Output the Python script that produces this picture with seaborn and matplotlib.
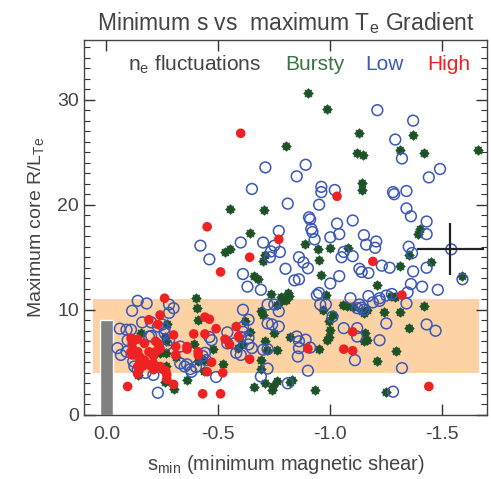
import numpy as np
import pandas as pd
import seaborn as sns
import matplotlib.pyplot as plt
from matplotlib.path import Path
from matplotlib.ticker import MultipleLocator

# Values: s_min (x) and maximum core R/L_Te (y)
bursty_smin = [-0.90, -0.985, -1.13, -1.37, -0.80, -1.12, -1.145, -1.31, -1.42, -1.66,
               -1.14, -1.14, -1.40, -1.39, -0.885, -0.945, -1.0, -1.08, -0.95, -1.31,
               -1.35, -1.45, -1.59, -0.96, -1.21, -0.81, -0.815, -0.98, -1.27, -1.29,
               -0.55, -0.705, -0.64, -0.53, -0.55, -0.71, -0.70, -0.66, -0.675, -0.735,
               -0.78, -0.40,
               -0.155, -0.26, -0.265, -0.24, -0.265, -0.31, -0.265, -0.14, -0.26, -0.30,
               -0.36, -0.405, -0.41, -0.27, -0.39, -0.475, -0.41, -0.435, -0.52, -0.435,
               -0.59, -0.605, -0.617, -0.643, -0.69, -0.69, -0.69, -0.70, -0.76, -0.78,
               -0.80, -0.75, -0.71, -0.717, -0.762, -0.82, -0.95, -0.993, -1.0, -0.993,
               -0.985, -1.01, -1.055, -1.075, -1.10, -1.14, -1.165, -1.15, -1.155, -1.165,
               -1.15, -1.24, -1.31, -1.42, -1.35, -1.21, -1.295, -1.25, -0.66, -0.71,
               -0.745, -0.74, -0.76, -0.82, -0.83, -0.93, -0.967]
bursty_rlt = [30.6, 29.1, 26.8, 26.6, 25.6, 24.9, 24.7, 25.2, 24.95, 25.2,
              22.1, 21.4, 17.7, 17.2, 16.3, 15.8, 15.9, 15.9, 14.7, 14.2,
              15.2, 14.5, 13.2, 13.3, 12.4, 11.6, 11.3, 11.4, 11.3, 11.2,
              19.6, 19.5, 17.3, 15.5, 15.8, 15.2, 14.6, 13.2, 12.9, 11.5,
              11.2, 11.1,
              7.8, 7.45, 7.0, 5.9, 5.9, 5.55, 4.65, 3.8, 3.1, 2.45,
              3.3, 10.2, 9.0, 8.6, 6.7, 6.3, 5.1, 5.2, 4.85, 4.2,
              6.35, 6.7, 8.9, 7.85, 5.2, 4.35, 9.85, 9.5, 10.5, 10.8,
              10.95, 7.8, 7.0, 6.2, 6.2, 7.45, 6.3, 8.9, 8.1, 7.45,
              7.1, 9.5, 10.5, 10.4, 10.3, 9.85, 10.0, 9.7, 7.8, 7.1,
              7.0, 9.8, 9.8, 10.4, 8.3, 5.1, 6.1, 2.2, 2.6, 3.0,
              2.7, 2.4, 3.2, 3.1, 3.3, 2.4, 10.0]

low_smin = [-1.21, -1.37, -1.29, -1.32, -0.71, -0.89, -0.85, -1.49, -1.44,
            -0.96, -0.96, -1.02, -1.28, -1.285, -1.34, -0.81, -0.95, -1.34, -1.36,
            -0.905, -0.91, -1.03, -1.10, -1.43, -1.43, -0.915, -0.92, -0.93, -1.0, -1.04,
            -0.77, -1.15, -1.16, -1.205, -1.20, -1.06, -1.05, -1.10, -0.86, -0.88, -0.90, -0.80,
            -1.23, -1.265, -1.35, -1.365, -1.54, -1.43, -1.37, -1.59, -1.13, -1.14, -1.17, -1.04,
            -0.84, -0.86, -1.0, -1.36, -1.41, -1.48, -1.345, -0.95, -1.09, -1.17, -1.22,
            -0.65, -0.60, -0.70, -0.42, -0.735, -0.75, -0.775, -0.73, -0.46, -0.61, -0.63, -0.69,
            -1.25, -1.275,
            -0.14, -0.18, -0.115, -0.28, -0.30, -0.28, -0.16, -0.06, -0.09, -0.11, -0.20, -0.23,
            -0.25, -0.26, -0.26,
            -0.05, -0.065, -0.09, -0.095, -0.27, -0.28, -0.19, -0.20, -0.33, -0.33, -0.35, -0.125,
            -0.14, -0.12, -0.175, -0.21,
            -0.36, -0.38, -0.375, -0.40, -0.43, -0.445, -0.44, -0.47, -0.49, -0.23,
            -0.46, -0.54, -0.54, -0.57, -0.61, -0.635, -0.65,
            -0.61, -0.72, -0.75, -0.77, -0.635, -0.94, -0.955, -0.98, -1.12, -1.01, -1.06, -1.12,
            -1.12, -0.61, -0.60, -0.635, -0.58, -0.60, -0.70, -0.72, -0.85, -0.86, -0.89, -0.86,
            -0.855, -0.91, -0.72, -0.69, -0.90, -0.81, -0.72, -0.74, -0.77,
            -1.19, -1.22, -1.34, -1.14, -1.25, -1.43, -1.47, -1.22, -1.11, -1.32, -1.28, -1.15,
            -1.13]
low_rlt = [29.0, 28.0, 26.2, 24.4, 23.55, 23.8, 22.7, 23.4, 22.6,
           21.7, 21.2, 21.4, 21.2, 21.0, 21.3, 20.1, 20.0, 19.65, 18.9,
           18.8, 18.6, 18.2, 18.5, 18.4, 17.2, 17.7, 17.4, 16.7, 16.9, 17.2,
           17.5, 17.1, 16.2, 16.5, 15.9, 15.5, 15.0, 15.1, 15.0, 14.5, 13.95, 13.9,
           14.2, 14.0, 16.0, 15.4, 15.75, 14.0, 13.65, 12.9, 13.9, 13.6, 13.5, 13.2,
           12.8, 12.9, 12.5, 12.45, 12.2, 11.9, 11.65, 11.6, 11.1, 11.3, 11.1,
           21.5, 16.4, 16.4, 16.1, 15.55, 16.1, 15.5, 15.0, 14.8, 13.4, 12.2, 11.9,
           11.35, 11.5,
           10.85, 10.6, 9.9, 10.5, 10.15, 9.7, 8.8, 8.2, 8.1, 8.1, 8.8, 8.4,
           8.6, 8.2, 7.8,
           6.35, 5.7, 6.0, 7.1, 6.7, 7.1, 7.45, 7.5, 6.5, 4.9, 4.6, 4.6,
           4.3, 5.1, 4.0, 3.8,
           4.8, 4.1, 4.35, 4.55, 5.6, 5.2, 5.9, 7.1, 3.6, 2.1,
           7.4, 7.85, 6.8, 6.8, 8.35, 7.3, 6.35,
           10.0, 10.5, 10.5, 9.85, 9.05, 11.4, 10.5, 10.5, 10.15, 9.35, 8.25, 8.25,
           7.45, 7.9, 7.4, 6.7, 5.9, 5.7, 6.2, 6.25, 7.45, 7.0, 7.15, 6.35,
           5.55, 6.4, 4.4, 3.65, 4.2, 3.0, 8.7, 8.6, 8.4,
           10.7, 10.85, 10.6, 10.2, 8.7, 8.6, 8.0, 7.1, 5.2, 4.45, 2.2, 10.0,
           10.5]

high_smin = [-0.60, -1.03, -0.45, -0.77, -0.64, -1.19, -0.51, -1.32, -0.26,
             -0.24, -0.19, -0.23, -0.44, -0.46, -0.49, -0.58, -0.59, -0.53, -0.55,
             -0.44, -0.39, -0.30, -0.31, -0.31, -0.36, -0.36, -0.41, -0.41, -0.47,
             -0.45, -0.52, -0.64, -0.90, -1.10, -1.06, -1.10,
             -0.11, -0.12, -0.14, -0.115, -0.17, -0.22, -0.23, -0.11, -0.12, -0.14,
             -0.13, -0.115, -0.15, -0.19, -0.21, -0.22, -0.24, -0.15, -0.17, -0.16,
             -0.14, -0.145, -0.21, -0.19, -0.24, -0.265, -0.21, -0.25, -0.27, -0.27,
             -0.14, -0.30,
             -0.095, -0.43, -0.51, -1.44]
high_rlt = [26.8, 20.8, 17.9, 16.7, 15.0, 14.6, 13.6, 11.4, 11.1,
            9.5, 9.05, 8.6, 9.3, 9.1, 8.2, 8.4, 7.45, 7.2, 6.7,
            7.7, 7.7, 7.6, 6.5, 5.7, 6.5, 6.25, 6.0, 5.7, 5.0,
            4.1, 4.0, 5.3, 6.3, 7.9, 6.25, 6.1,
            7.3, 7.1, 7.2, 6.8, 6.8, 7.0, 6.8, 6.0, 6.2, 6.0,
            5.7, 5.7, 5.5, 6.0, 5.6, 6.0, 6.3, 5.1, 5.2, 4.6,
            4.6, 4.3, 4.9, 4.75, 4.6, 4.2, 4.3, 4.35, 3.8, 3.4,
            3.9, 2.9,
            2.7, 2.0, 2.0, 2.7]

# typical error bar
err_smin, err_rlt = -1.535, 15.8
err_dsmin, err_drlt = 0.15, 2.5

# shaded band and the grey bar at s = 0
band_smin = [0.06, -1.665]
band_low, band_high = 4, 11
bar_smin, bar_rlt = [0.0], [9]

bursty = pd.DataFrame({'smin': bursty_smin, 'rlt': bursty_rlt})
low = pd.DataFrame({'smin': low_smin, 'rlt': low_rlt})
high = pd.DataFrame({'smin': high_smin, 'rlt': high_rlt})

sns.set_style("ticks")
plt.rcParams['font.family'] = ['Liberation Sans', 'DejaVu Sans']
plt.rcParams['mathtext.fontset'] = 'custom'
plt.rcParams['mathtext.rm'] = 'Liberation Sans'
plt.rcParams['mathtext.it'] = 'Liberation Sans:italic'

text_col = '#444444'
green = '#1d5227'
blue = '#3a58b8'
red = '#ee2222'

# chunky 8-point asterisk for the "bursty" points
ang = np.arange(16) * np.pi / 8
rad = np.where(np.arange(16) % 2 == 0, 1.0, 0.74)
star = Path(np.column_stack([rad * np.cos(ang + np.pi / 4), rad * np.sin(ang + np.pi / 4)]))

fig = plt.figure(figsize=(4.91, 4.79), dpi=100)
ax = fig.add_axes([0.171, 0.134, 0.821, 0.783])

# shaded band and grey bar
ax.fill_between(band_smin, band_low, band_high, color='#fdd3a6', lw=0, zorder=0)
ax.bar(bar_smin, bar_rlt, width=0.06, color='#808080', zorder=1)

# the three groups
sns.scatterplot(data=bursty, x='smin', y='rlt', ax=ax, marker=star, s=48,
                color=green, edgecolor=green, linewidth=0.5, zorder=2)
sns.scatterplot(data=low, x='smin', y='rlt', ax=ax, marker='o', s=60,
                facecolor='none', edgecolor=blue, linewidth=1.1, zorder=3)
sns.scatterplot(data=high, x='smin', y='rlt', ax=ax, marker='o', s=48,
                color=red, edgecolor='none', linewidth=0, zorder=4)

ax.errorbar(err_smin, err_rlt, xerr=err_dsmin, yerr=err_drlt, fmt='none',
            ecolor='#222222', elinewidth=1.6, capsize=0, zorder=5)

ax.set_xlim(0.1, -1.7)
ax.set_ylim(0, 35.7)
ax.set_xticks([0.0, -0.5, -1.0, -1.5])
ax.set_xticklabels(['0.0', '-0.5', '-1.0', '-1.5'])
ax.set_yticks([0, 10, 20, 30])
ax.yaxis.set_minor_locator(MultipleLocator(1))
ax.tick_params(which='both', direction='in', top=True, right=True,
               colors='#333333', labelcolor=text_col, labelsize=14)
ax.tick_params(which='major', length=8, width=1)
ax.tick_params(which='minor', length=4, width=0.8)
ax.tick_params(axis='x', pad=8)
for sp in ax.spines.values():
    sp.set_color('#444444')
    sp.set_linewidth(1)

ax.set_xlabel('s$_\\mathrm{min}$ (minimum magnetic shear)', fontsize=14.5, color=text_col, labelpad=7)
ax.set_ylabel('Maximum core R/L$_\\mathrm{Te}$', fontsize=14, color=text_col, labelpad=8)
ax.set_title('Minimum s vs  maximum T$_\\mathrm{e}$ Gradient', fontsize=16.5, color=text_col, pad=7)

# legend written as coloured words
ax.text(0.109, 0.933, 'n$_\\mathrm{e}$ fluctuations', transform=ax.transAxes, fontsize=15,
        color=text_col, va='center')
ax.text(0.499, 0.933, 'Bursty', transform=ax.transAxes, fontsize=15, color='#3a7344', va='center')
ax.text(0.697, 0.933, 'Low', transform=ax.transAxes, fontsize=15, color=blue, va='center')
ax.text(0.851, 0.933, 'High', transform=ax.transAxes, fontsize=15, color=red, va='center')

plt.savefig('out.png', dpi=100)
